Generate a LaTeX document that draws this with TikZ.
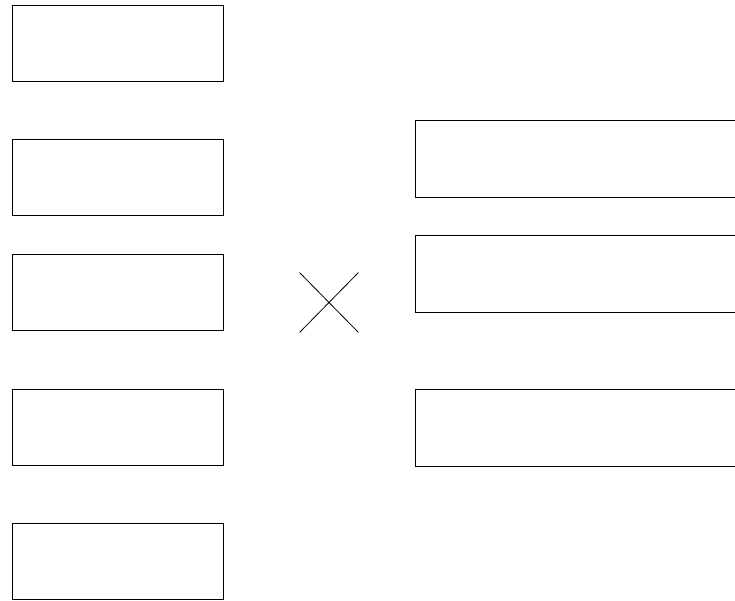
\documentclass[tikz,border=0pt]{standalone}
\usetikzlibrary{shapes.misc}

\begin{document}
\begin{tikzpicture}[x=1pt,y=-1pt,line width=0.8pt,
  leftbox/.style={draw,rectangle,minimum width=211pt,minimum height=76pt,inner sep=0pt},
  rightbox/.style={draw,rectangle,minimum width=330pt,minimum height=77pt,inner sep=0pt}]
  \clip (0,0) rectangle (735,601);
  % left column
  \node[leftbox] (l1) at (117.5,43) {};
  \node[leftbox] (l2) at (117.5,177) {};
  \node[leftbox] (l3) at (117.5,292) {};
  \node[leftbox] (l4) at (117.5,427) {};
  \node[leftbox] (l5) at (117.5,561) {};
  % cross
  \node[draw,cross out,minimum width=58pt,minimum height=59pt,inner sep=0pt] (x) at (329,302.5) {};
  % right column
  \node[rightbox] (r1) at (580,158.5) {};
  \node[rightbox] (r2) at (580,273.5) {};
  \node[rightbox] (r3) at (580,427.5) {};
\end{tikzpicture}
\end{document}
